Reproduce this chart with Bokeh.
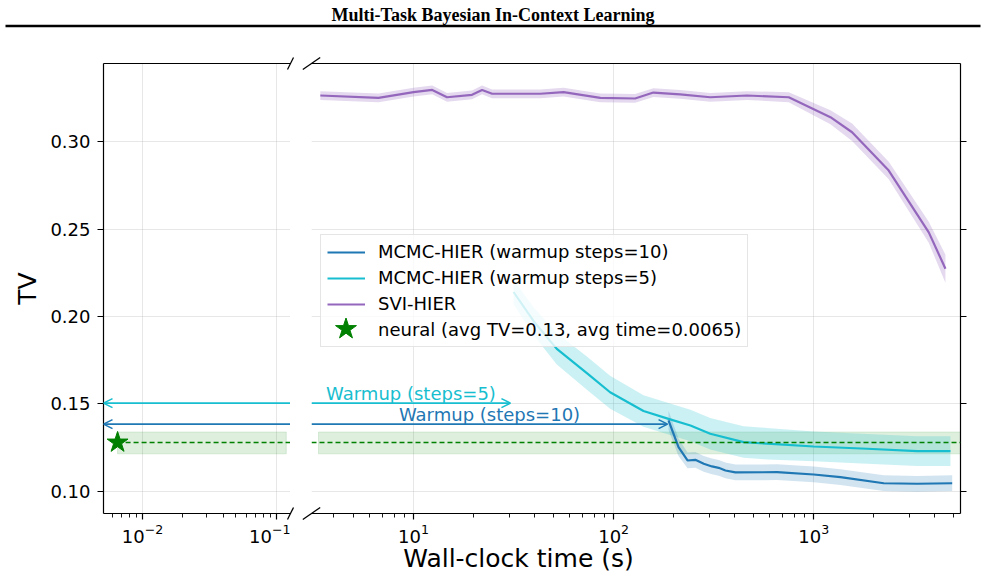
import math
from bokeh.plotting import figure
from bokeh.models import (Range1d, LogAxis, FixedTicker, PrintfTickFormatter, CustomJSTickFormatter,
                          Arrow, OpenHead, Label, Legend, LegendItem, Span, GridBox)
from bokeh.embed import file_html
from bokeh.resources import INLINE
from bokeh.core.properties import value

# ---------------- data ----------------
svi_time = [3.42, 6.68, 10.0, 12.4, 14.7, 19.6, 22.0, 24.7, 43.0, 56.2, 85.8, 128, 158, 215,
            304, 464, 750, 1212, 1555, 2371, 3758, 4553]
svi_tv = [0.3263, 0.3250, 0.3282, 0.3295, 0.3253, 0.3267, 0.3295, 0.3273, 0.3273, 0.3282, 0.3250,
          0.3246, 0.3280, 0.3269, 0.3253, 0.3263, 0.3253, 0.3139, 0.3053, 0.2834, 0.2481, 0.2273]
svi_sd = [0.0025, 0.0025, 0.0025, 0.0025, 0.0025, 0.0025, 0.0025, 0.0025, 0.0025, 0.0025, 0.0025,
          0.0025, 0.0025, 0.0025, 0.0025, 0.0025, 0.0028, 0.0040, 0.0050, 0.0050, 0.0060, 0.0080]

mcmc10_time = [188, 211, 234, 256, 282, 310, 335, 362, 406, 656, 1000, 1360, 2239, 3286, 4920]
mcmc10_tv = [0.1406, 0.1253, 0.1177, 0.1181, 0.1158, 0.1143, 0.1135, 0.1120, 0.1109, 0.1110,
             0.1097, 0.1082, 0.1047, 0.1044, 0.1047]
mcmc10_sd = [0.0055, 0.0050, 0.0045, 0.0045, 0.0045, 0.0045, 0.0045, 0.0045, 0.0045, 0.0045,
             0.0045, 0.0045, 0.0045, 0.0045, 0.0045]

mcmc5_time = [31.6, 40, 52, 74, 96, 141, 188, 242, 304, 446, 584, 1000, 1848, 3286, 4823]
mcmc5_tv = [0.214, 0.197, 0.1815, 0.1673, 0.1567, 0.146, 0.1415, 0.1377, 0.133, 0.1282, 0.1273,
            0.1257, 0.1244, 0.1230, 0.1230]
mcmc5_sd = [0.007, 0.008, 0.009, 0.0095, 0.0095, 0.009, 0.009, 0.009, 0.009, 0.009, 0.009,
            0.0085, 0.0085, 0.0085, 0.0085]

neural_time = 0.0065
neural_tv = 0.128
neural_tv_low = 0.1215
neural_tv_high = 0.134
neural_band_left_end = 0.119
neural_band_right_start = 3.35

warmup5_time = 30.5
warmup10_time = 186.0
warmup5_level = 0.1505
warmup10_level = 0.1385

y_ticks = [0.10, 0.15, 0.20, 0.25, 0.30]
left_x_ticks = [0.01, 0.1]
right_x_ticks = [10, 100, 1000]

labels = ["MCMC-HIER (warmup steps=10)", "MCMC-HIER (warmup steps=5)", "SVI-HIER",
          "neural (avg TV=0.13, avg time=0.0065)"]
title_text = "Multi-Task Bayesian In-Context Learning"
x_label_text = "Wall-clock time (s)"

# ---------------- layout / styling constants ----------------
W, H = 985, 577
FONT = "DejaVu Sans"
BLUE, CYAN, PURPLE, GREEN = "#1f77b4", "#17becf", "#9467bd", "#008000"
Y_MIN, Y_MAX = 0.0874, 0.3446
LEFT_X = (0.0051, 0.128)
RIGHT_X = (3.09, 5414.0)
FRAME_TOP, FRAME_BOTTOM = 63, 513
LEFT_FRAME = (103, 290)
RIGHT_FRAME = (311, 960)

left_minor = [m * 10.0 ** e for e in range(-3, 0) for m in range(2, 10)]
right_minor = [m * 10.0 ** e for e in range(0, 4) for m in range(2, 10)]

yr = Range1d(Y_MIN, Y_MAX)
common = dict(height=H, y_range=yr, x_axis_type="log", output_backend="svg",
              toolbar_location=None, min_border_top=FRAME_TOP, min_border_bottom=H - FRAME_BOTTOM,
              outline_line_color=None, background_fill_color="white", border_fill_color="white",
              frame_align=False)
left = figure(width=LEFT_FRAME[1], x_range=Range1d(*LEFT_X), min_border_left=LEFT_FRAME[0],
              min_border_right=0, **common)
right = figure(width=W - LEFT_FRAME[1], x_range=Range1d(*RIGHT_X),
               min_border_left=RIGHT_FRAME[0] - LEFT_FRAME[1], min_border_right=W - RIGHT_FRAME[1],
               y_axis_location="right", **common)


def style_axis(ax):
    ax.axis_line_color = "black"
    ax.axis_line_width = 1.2
    ax.major_tick_line_color = "black"
    ax.major_tick_line_width = 1.2
    ax.minor_tick_line_color = "black"
    ax.minor_tick_line_width = 0.9
    ax.major_tick_in = 0
    ax.major_tick_out = 6
    ax.minor_tick_in = 0
    ax.minor_tick_out = 4
    ax.major_label_text_font = FONT
    ax.major_label_text_font_size = "18px"
    ax.major_label_text_color = "black"


for fig, xt, mt in ((left, left_x_ticks, left_minor), (right, right_x_ticks, right_minor)):
    xa = fig.xaxis[0]
    style_axis(xa)
    xa.ticker = FixedTicker(ticks=xt, minor_ticks=mt)
    xa.major_label_standoff = 4
    ya = fig.yaxis[0]
    style_axis(ya)
    ya.ticker = FixedTicker(ticks=y_ticks)
    ya.minor_tick_line_color = None
    ya.major_label_standoff = 7
    fig.xgrid.ticker = FixedTicker(ticks=xt)
    fig.ygrid.ticker = FixedTicker(ticks=y_ticks)
    for g in (fig.xgrid, fig.ygrid):
        g.grid_line_color = "#b0b0b0"
        g.grid_line_alpha = 0.3
        g.grid_line_width = 1
    top = LogAxis(ticker=FixedTicker(ticks=[]), axis_line_color="black", axis_line_width=1.2,
                  major_tick_line_color=None, minor_tick_line_color=None)
    fig.add_layout(top, "above")

left.yaxis[0].formatter = PrintfTickFormatter(format="%.2f")
left.yaxis[0].axis_label = "TV"
left.yaxis[0].axis_label_text_font = FONT
left.yaxis[0].axis_label_text_font_size = "25px"
left.yaxis[0].axis_label_text_font_style = "normal"
left.yaxis[0].axis_label_text_color = "black"
left.yaxis[0].axis_label_standoff = 5
right.yaxis[0].formatter = CustomJSTickFormatter(code="return ''")

# ---------------- neural baseline ----------------
left.quad(left=[neural_time], right=[neural_band_left_end], bottom=[neural_tv_low], top=[neural_tv_high],
          fill_color=GREEN, fill_alpha=0.13, line_color=GREEN, line_alpha=0.12)
right.quad(left=[neural_band_right_start], right=[RIGHT_X[1]], bottom=[neural_tv_low], top=[neural_tv_high],
           fill_color=GREEN, fill_alpha=0.13, line_color=GREEN, line_alpha=0.12)
left.line([neural_time, LEFT_X[1]], [neural_tv, neural_tv], line_color=GREEN, line_width=1.5,
          line_dash="5 3")
right.add_layout(Span(location=neural_tv, dimension="width", line_color=GREEN, line_width=1.5,
                      line_dash="5 3"))

# ---------------- method curves ----------------
def band(fig, t, tv, sd, color, alpha):
    fig.varea(x=t, y1=[a - b for a, b in zip(tv, sd)], y2=[a + b for a, b in zip(tv, sd)],
              fill_color=color, fill_alpha=alpha)


band(right, svi_time, svi_tv, svi_sd, PURPLE, 0.25)
band(right, mcmc5_time, mcmc5_tv, mcmc5_sd, CYAN, 0.22)
band(right, mcmc10_time, mcmc10_tv, mcmc10_sd, BLUE, 0.2)
r_svi = right.line(svi_time, svi_tv, line_color=PURPLE, line_width=2.2)
r5 = right.line(mcmc5_time, mcmc5_tv, line_color=CYAN, line_width=2.2)
r10 = right.line(mcmc10_time, mcmc10_tv, line_color=BLUE, line_width=2.2)

left.scatter([neural_time], [neural_tv], marker="star", size=22, color=GREEN)
r_star = right.scatter([neural_time], [neural_tv], marker="star", size=22, color=GREEN)

# ---------------- warmup arrows ----------------
for lvl, t_end, col, txt in ((warmup5_level, warmup5_time, CYAN, "Warmup (steps=5)"),
                             (warmup10_level, warmup10_time, BLUE, "Warmup (steps=10)")):
    left.add_layout(Arrow(end=OpenHead(size=9, line_color=col, line_width=1.6),
                          x_start=LEFT_X[1], y_start=lvl, x_end=LEFT_X[0], y_end=lvl,
                          line_color=col, line_width=1.6))
    right.add_layout(Arrow(end=OpenHead(size=9, line_color=col, line_width=1.6),
                           x_start=RIGHT_X[0], y_start=lvl, x_end=t_end, y_end=lvl,
                           line_color=col, line_width=1.6))
    right.add_layout(Label(x=math.sqrt(RIGHT_X[0] * t_end), y=lvl, y_offset=10, text=txt,
                           text_color=col, text_font=FONT, text_font_size="18px",
                           text_align="center", text_baseline="middle"))

# ---------------- legend ----------------
legend = Legend(items=[LegendItem(label=value(labels[0]), renderers=[r10]),
                       LegendItem(label=value(labels[1]), renderers=[r5]),
                       LegendItem(label=value(labels[2]), renderers=[r_svi]),
                       LegendItem(label=value(labels[3]), renderers=[r_star])],
                location=(9, 166), orientation="vertical", padding=6, spacing=5, margin=0,
                glyph_width=38, glyph_height=20, label_standoff=13,
                label_text_font=FONT, label_text_font_size="18px", label_text_color="black",
                border_line_color="#cccccc", border_line_width=1,
                background_fill_color="white", background_fill_alpha=0.8)
right.add_layout(legend)
legend_star = Legend(items=[LegendItem(label=value(" "), renderers=[r_star])],
                     location=(7, 157), padding=0, margin=0, glyph_width=55, glyph_height=55,
                     label_standoff=0, label_text_font_size="2px",
                     border_line_color=None, background_fill_alpha=0)
right.add_layout(legend_star)

# ---------------- transparent overlay: page header, x label, axis-break marks ----------------
over = figure(width=W, height=H, x_range=Range1d(0, W), y_range=Range1d(H, 0),
              x_axis_type=None, y_axis_type=None, min_border=0, outline_line_color=None,
              toolbar_location=None, output_backend="svg", frame_align=False,
              background_fill_alpha=0, border_fill_alpha=0)
over.add_layout(Label(x=W / 2, y=14, text=title_text, text_align="center",
                      text_baseline="alphabetic", text_font="Liberation Serif",
                      text_font_style="bold", text_font_size="18px", text_color="black"))
over.segment(x0=[5], y0=[25.5], x1=[W - 5], y1=[25.5], line_color="black", line_width=2.5)
over.add_layout(Label(x=518, y=558, text=x_label_text, text_align="center", text_baseline="middle",
                      text_font=FONT, text_font_size="25px", text_color="black"))

bx0, by0, bx1, by1 = [], [], [], []
for xe, dx in ((LEFT_FRAME[1], 3.0), (RIGHT_FRAME[0], 8.7)):
    for ye in (FRAME_TOP, FRAME_BOTTOM):
        bx0.append(xe - dx)
        by0.append(ye + 6)
        bx1.append(xe + dx)
        by1.append(ye - 6)
over.segment(x0=bx0, y0=by0, x1=bx1, y1=by1, line_color="black", line_width=1.3)

layout = GridBox(children=[(left, 0, 0), (right, 0, 1), (over, 0, 0, 1, 2)], spacing=0)
open("out.html", "w").write(file_html(layout, INLINE))
